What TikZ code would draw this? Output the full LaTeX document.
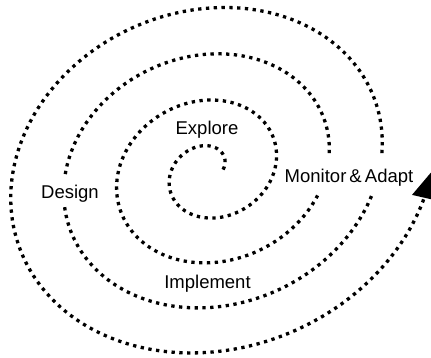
\documentclass[tikz,border=0pt]{standalone}
\usepackage{fontspec}
\setmainfont{Liberation Sans}
\usetikzlibrary{arrows.meta}
\begin{document}
\begin{tikzpicture}[x=1pt,y=-1pt,
  declare function={
    rx(\t)=13.25+8.44*\t;
    ry(\t)=13.5+7.22*\t;
    sx(\t)=209.75+rx(\t)*cos(\t r);
    sy(\t)=171-0.1*\t-ry(\t)*sin(\t r)-0.11*rx(\t)*cos(\t r);
  },
  spiral/.style={line width=3.3pt, dash pattern=on 3.3pt off 4.5pt, line cap=butt},
  lbl/.style={font=\fontsize{18.5}{22}\selectfont, anchor=base, inner sep=0pt}]
\useasboundingbox (0,0) rectangle (431,358);
\draw[spiral] plot[domain=0:12.19, samples=220, variable=\t] ({sx(\t)},{sy(\t)});
\draw[spiral] plot[domain=12.60:15.633, samples=80, variable=\t] ({sx(\t)},{sy(\t)});
\draw[spiral] plot[domain=15.879:18.545, samples=80, variable=\t] ({sx(\t)},{sy(\t)});
\draw[spiral, -{Triangle[length=27pt,width=27pt]}] plot[domain=18.83:24.99, samples=160, variable=\t] ({sx(\t)},{sy(\t)});
\node[lbl] (explore) at (207,135) {Explore};
\node[lbl] (design) at (70,198.5) {Design};
\node[lbl] (monitor) at (349,182.7) {Monitor\,\&\,Adapt};
\node[lbl] (implement) at (207.5,288) {Implement};
\end{tikzpicture}
\end{document}
